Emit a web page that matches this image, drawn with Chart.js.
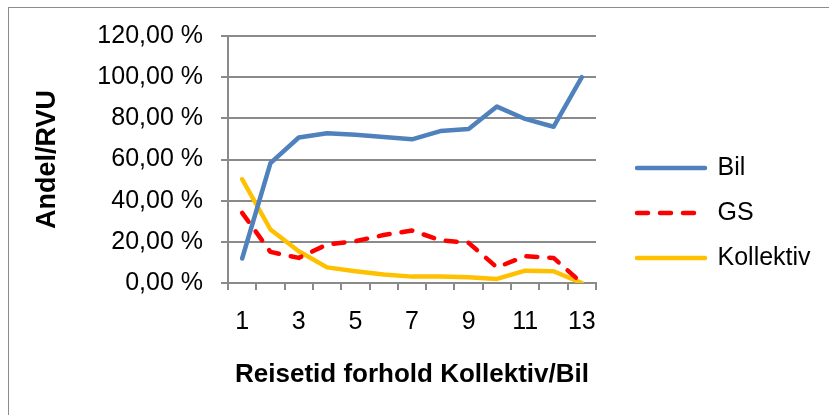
<!DOCTYPE html>
<html>
<head>
<meta charset="utf-8">
<script src="https://cdn.jsdelivr.net/npm/chart.js@4"></script>
<style>
  html, body { margin: 0; padding: 0; background: #fff; }
  #wrap { position: relative; width: 829px; height: 415px; overflow: hidden; }
  #frame { position: absolute; left: 8px; top: 7px; width: 900px; height: 500px; border: 1px solid #8c8c8c; }
  #chart { position: absolute; left: 0; top: 0; }
</style>
</head>
<body>
<div id="wrap">
  <div id="frame"></div>
  <canvas id="chart" width="829" height="415"></canvas>
</div>
<script>
const kategorier = ["1", "2", "3", "4", "5", "6", "7", "8", "9", "10", "11", "12", "13"];
const bil = [11.9, 58.2, 70.7, 72.8, 72.0, 70.9, 69.8, 73.8, 74.8, 85.7, 79.7, 75.9, 100];
const gs = [34.1, 15.1, 12.2, 18.7, 20.3, 23.3, 25.5, 20.8, 19.5, 7.6, 13.0, 12.2, 0];
const kollektiv = [50.4, 26.0, 15.4, 7.6, 5.7, 4.1, 3.1, 3.1, 2.8, 2.0, 6.0, 5.7, 0];

const FONT = "'Liberation Sans', Arial, sans-serif";
const GRID = "#8a8a8a";

// legenden flyttes ut til høyre for plottet
const legendePlassering = {
  id: "legendePlassering",
  afterLayout(chart) {
    const lg = chart.legend;
    if (!lg) return;
    const w = lg.width, h = lg.height;
    lg.left = 617;
    lg.right = lg.left + w;
    lg.top = 135.5;
    lg.bottom = lg.top + h;
  }
};

function linje(label, data, farge, dash) {
  return {
    label,
    data,
    borderColor: farge,
    backgroundColor: farge,
    borderWidth: 4.5,
    borderDash: dash || [],
    borderCapStyle: "round",
    borderJoinStyle: "round",
    pointRadius: 0,
    pointHoverRadius: 0,
    tension: 0,
    fill: false
  };
}

new Chart(document.getElementById("chart"), {
  type: "line",
  data: {
    labels: kategorier,
    datasets: [
      linje("Bil", bil, "#4f81bd"),
      linje("GS", gs, "#ff0000", [11, 12]),
      linje("Kollektiv", kollektiv, "#ffc000")
    ]
  },
  plugins: [legendePlassering],
  options: {
    responsive: false,
    animation: false,
    devicePixelRatio: 1,
    layout: { padding: { left: 0, top: 36, right: 233, bottom: 0 } },
    plugins: {
      legend: {
        display: true,
        position: "chartArea",
        align: "start",
        labels: {
          usePointStyle: true,
          pointStyle: "line",
          pointStyleWidth: 68,
          padding: 20,
          color: "#000",
          font: { family: FONT, size: 25 },
          generateLabels(chart) {
            const items = Chart.defaults.plugins.legend.labels.generateLabels(chart);
            items.forEach((item) => {
              const ds = chart.data.datasets[item.datasetIndex];
              item.lineDash = ds.borderDash;
              item.lineCap = "round";
              item.lineWidth = ds.borderWidth;
              item.strokeStyle = ds.borderColor;
            });
            return items;
          }
        }
      },
      tooltip: { enabled: false }
    },
    scales: {
      x: {
        type: "category",
        offset: true,
        afterFit(scale) { scale.height = 132; },
        grid: {
          offset: true,
          drawOnChartArea: false,
          drawTicks: true,
          tickLength: 7,
          color: GRID,
          lineWidth: 2
        },
        border: { display: true, color: GRID, width: 2 },
        ticks: {
          autoSkip: false,
          maxRotation: 0,
          padding: 17,
          color: "#000",
          font: { family: FONT, size: 25 },
          callback(value, index) {
            return index % 2 === 0 ? this.getLabelForValue(value) : "";
          }
        },
        title: {
          display: true,
          text: "Reisetid forhold Kollektiv/Bil",
          color: "#000",
          font: { family: FONT, size: 26, weight: "bold" },
          padding: { top: 0, bottom: 25 }
        }
      },
      y: {
        min: 0,
        max: 120,
        afterFit(scale) { scale.width = 228; },
        grid: {
          color: GRID,
          lineWidth: 2,
          drawTicks: true,
          tickLength: 7
        },
        border: { display: true, color: GRID, width: 2 },
        ticks: {
          stepSize: 20,
          padding: 18,
          color: "#000",
          font: { family: FONT, size: 25 },
          callback: (v) => v.toFixed(2).replace(".", ",") + " %"
        },
        title: {
          display: true,
          text: "Andel/RVU",
          color: "#000",
          font: { family: FONT, size: 27, weight: "bold" },
          padding: { top: 31, bottom: 0 }
        }
      }
    }
  }
});
</script>
</body>
</html>
